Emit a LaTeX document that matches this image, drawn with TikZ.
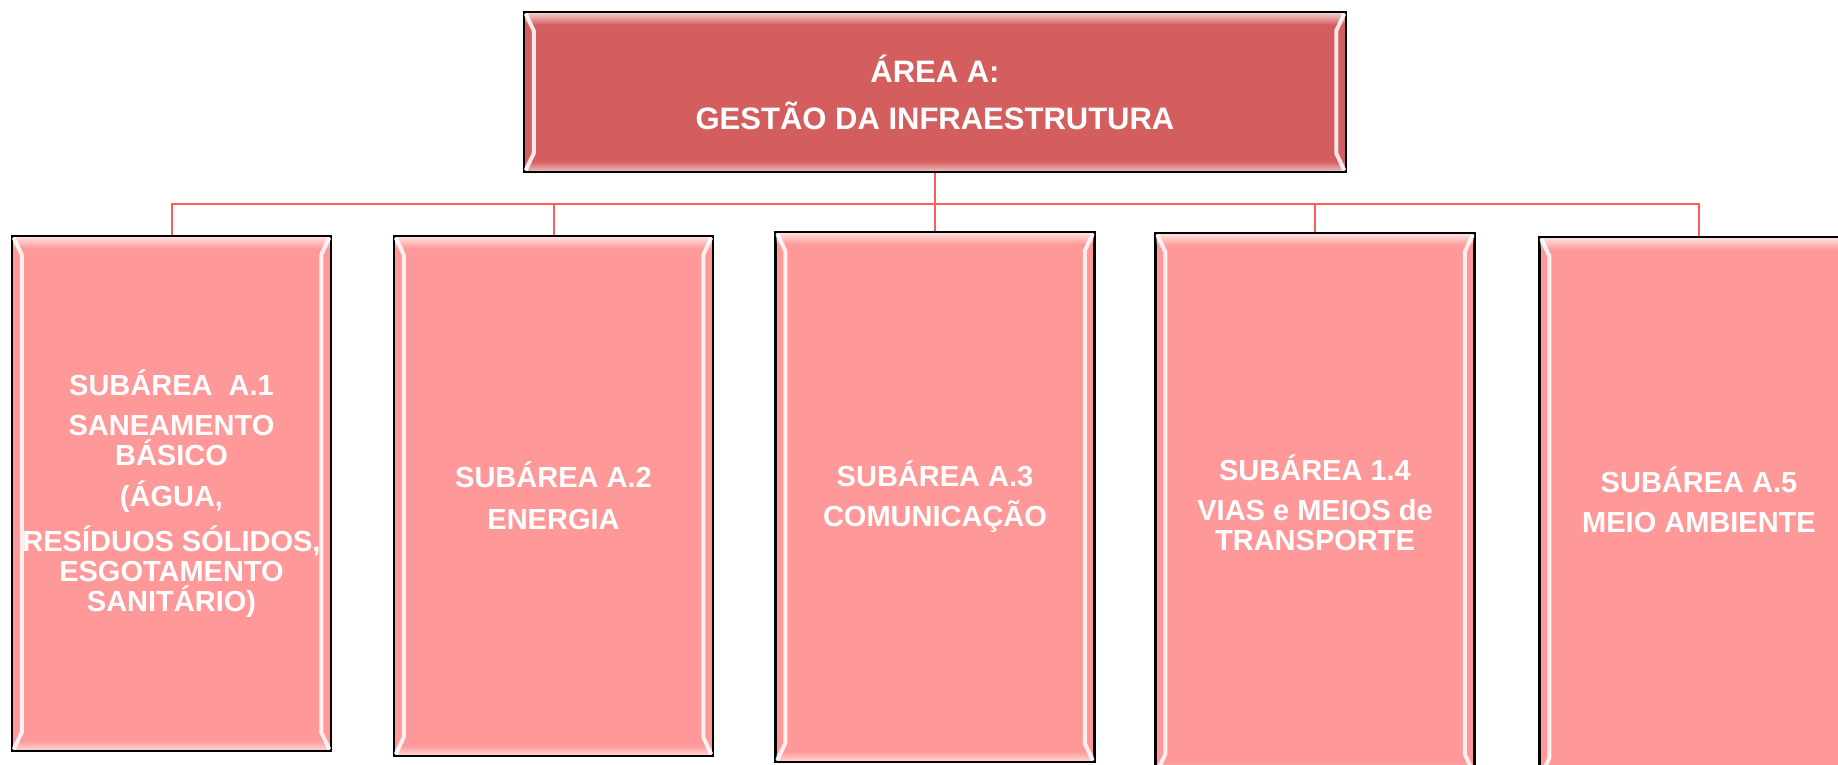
\documentclass[tikz,border=0pt]{standalone}
\usepackage{fontspec}
\setmainfont{Liberation Sans}
\usetikzlibrary{calc,fadings}
\definecolor{areared}{RGB}{212,94,94}
\definecolor{subpink}{RGB}{255,152,152}
\definecolor{linkred}{RGB}{255,92,92}

\tikzset{
    areabox/.style={draw=black, line width=2.5pt, fill=areared, minimum width=822pt, minimum height=160pt,
        inner sep=0pt, align=center, text=white, font=\fontsize{31}{31}\selectfont\bfseries},
    subbox/.style={draw=black, line width=2.5pt, fill=subpink, minimum width=319pt,
        inner sep=0pt, align=center, text=white, font=\fontsize{29}{30}\selectfont\bfseries},
    link/.style={draw=linkred, line width=2pt},
    bevelline/.style={white, line width=4pt, opacity=.85, line join=round},
}

% light edges of a box, as in a bevelled shape
\newcommand{\boxbevel}[1]{%
    \fill[white, fill opacity=.7, path fading=south] ($(#1.north west)+(2,2)$) rectangle ($(#1.north east)+(-2,14)$);
    \fill[white, fill opacity=.6, path fading=north] ($(#1.south west)+(2,-12)$) rectangle ($(#1.south east)+(-2,-2)$);
    \draw[bevelline] ($(#1.north west)+(3,3)$) -- ($(#1.north west)+(11,20)$) -- ($(#1.south west)+(11,-20)$) -- ($(#1.south west)+(3,-3)$);
    \draw[bevelline] ($(#1.north east)+(-3,3)$) -- ($(#1.north east)+(-11,20)$) -- ($(#1.south east)+(-11,-20)$) -- ($(#1.south east)+(-3,-3)$);
}

\begin{document}
\begin{tikzpicture}[x=1pt, y=-1pt]
    \clip (0,0) rectangle (1838,764);

    \node[areabox] (area) at (935,92) {ÁREA A:\\[16pt]GESTÃO DA INFRAESTRUTURA};
    \boxbevel{area}

    \node[subbox, minimum height=515pt] (sub1) at (171.5,493.5)
        {SUBÁREA\ \ A.1\\[10pt]SANEAMENTO\\BÁSICO\\[11pt](ÁGUA,\\[12pt]RESÍDUOS SÓLIDOS,\\ESGOTAMENTO\\SANITÁRIO)};
    \node[subbox, minimum height=520pt] (sub2) at (553.5,496) {SUBÁREA A.2\\[12pt]ENERGIA};
    \node[subbox, minimum height=530pt] (sub3) at (935,497) {SUBÁREA A.3\\[10pt]COMUNICAÇÃO};
    \node[subbox, minimum height=540pt] (sub4) at (1315,503) {SUBÁREA 1.4\\[10pt]VIAS e MEIOS de\\TRANSPORTE};
    \node[subbox, minimum height=540pt] (sub5) at (1699,507) {SUBÁREA A.5\\[10pt]MEIO AMBIENTE\\[-15pt]\mbox{}};
    \foreach \i in {1,...,5} {\boxbevel{sub\i}}

    % connectors
    \coordinate (bus) at (935,204);
    \draw[link] (area.south) -- (bus);
    \foreach \i in {1,...,5}
        \draw[link] (bus) -| (sub\i.north);
\end{tikzpicture}
\end{document}
